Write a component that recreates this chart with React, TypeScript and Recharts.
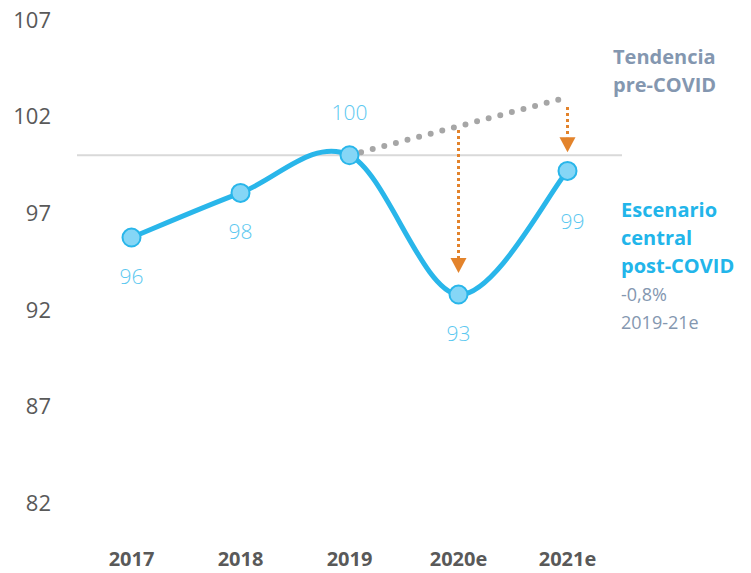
import { ComposedChart, Line, XAxis, YAxis, ReferenceLine, LabelList } from "recharts";

const years = ["2017", "2018", "2019", "2020e", "2021e"];
const central = [95.74, 98.05, 100, 92.79, 99.19];
const preCovid = [null, null, 100, 101.5, 103];
const yTicks = [82, 87, 92, 97, 102, 107];
const arrowYears = ["2020e", "2021e"];
const arrowFrom = [101.3, 102.5];
const arrowTo = [93.9, 100.15];

const C = {
  blue: "#29b6ea",
  dotFill: "#85d6f6",
  label: "#5cc8f0",
  trend: "#a6a6a6",
  orange: "#e3832b",
  axis: "#595959",
  ref: "#d9d9d9",
  note: "#8497b0",
  noteBlue: "#22b5ea",
};

const FONT = "'Open Sans', 'Noto Sans', sans-serif";

const data = years.map((year, i) => ({ year, central: central[i], trend: preCovid[i] }));

// catmull-rom smoothing, close to the office "smoothed line"
const smooth = (context: any) => {
  let pts: number[][] = [];
  const flush = () => {
    const n = pts.length;
    if (!n) return;
    context.moveTo(pts[0][0], pts[0][1]);
    for (let i = 0; i < n - 1; i++) {
      const p0 = pts[Math.max(i - 1, 0)];
      const p1 = pts[i];
      const p2 = pts[i + 1];
      const p3 = pts[Math.min(i + 2, n - 1)];
      context.bezierCurveTo(
        p1[0] + (p2[0] - p0[0]) / 6,
        p1[1] + (p2[1] - p0[1]) / 6,
        p2[0] - (p3[0] - p1[0]) / 6,
        p2[1] - (p3[1] - p1[1]) / 6,
        p2[0],
        p2[1]
      );
    }
  };
  return {
    areaStart() {},
    areaEnd() {},
    lineStart() {
      pts = [];
    },
    lineEnd() {
      flush();
    },
    point(x: number, y: number) {
      pts.push([+x, +y]);
    },
  };
};

const arrowShape = (p: any) => {
  const { x1, y1, x2, y2 } = p;
  const head = 15;
  return (
    <g>
      <line x1={x1} y1={y1} x2={x2} y2={y2 - head} stroke={C.orange} strokeWidth={3} strokeDasharray="3 3" />
      <polygon points={`${x2 - 8},${y2 - head} ${x2 + 8},${y2 - head} ${x2},${y2}`} fill={C.orange} />
    </g>
  );
};

const ValueLabel = (p: any) => {
  const { x, y, value, index } = p;
  const year = years[index];
  const above = year === "2019";
  const dx = year === "2021e" ? 5 : 0;
  const dy = above ? -43 : year === "2021e" ? 51 : 39;
  return (
    <text x={x + dx} y={y + dy} dy="0.35em" textAnchor="middle" fill={C.label} fontSize={21} fontWeight={300} fontFamily={FONT}>
      {Math.round(value)}
    </text>
  );
};

const XTick = (p: any) => {
  const { x, y, payload } = p;
  return (
    <text x={x} y={y} dy={55} textAnchor="middle" fill={C.axis} fontSize={20} fontWeight={700} fontFamily={FONT}>
      {payload.value}
    </text>
  );
};

export default function App() {
  return (
    <div style={{ position: "absolute", left: 0, top: 0, width: 751, height: 573, background: "#fff", fontFamily: FONT }}>
      <ComposedChart width={751} height={573} data={data} margin={{ top: 20, right: 129, bottom: 0, left: 0 }}>
        <XAxis
          dataKey="year"
          height={70}
          axisLine={false}
          tickLine={false}
          tick={<XTick />}
          interval={0}
          padding={{ left: 54.5, right: 54.5 }}
        />
        <YAxis
          domain={[82, 107]}
          ticks={yTicks}
          width={77}
          axisLine={false}
          tickLine={false}
          tickMargin={20}
          tick={{ fontSize: 22, fill: C.axis, fontFamily: FONT }}
        />
        <ReferenceLine y={100} stroke={C.ref} strokeWidth={2} />
        <Line
          dataKey="trend"
          type="linear"
          stroke={C.trend}
          strokeWidth={6}
          strokeDasharray="0 12"
          strokeLinecap="round"
          dot={false}
          activeDot={false}
          connectNulls={false}
          isAnimationActive={false}
        />
        {arrowYears.map((yr, i) => (
          <ReferenceLine
            key={yr}
            segment={[
              { x: yr, y: arrowFrom[i] },
              { x: yr, y: arrowTo[i] },
            ]}
            shape={arrowShape}
          />
        ))}
        <Line
          dataKey="central"
          type={smooth as any}
          stroke={C.blue}
          strokeWidth={5}
          dot={{ r: 9, fill: C.dotFill, stroke: C.blue, strokeWidth: 2 }}
          activeDot={false}
          isAnimationActive={false}
        >
          <LabelList dataKey="central" content={<ValueLabel />} />
        </Line>
      </ComposedChart>

      <div style={{ position: "absolute", left: 613, top: 43, lineHeight: "28px", fontSize: 20, fontWeight: 700, color: C.note }}>
        Tendencia
        <br />
        pre-COVID
      </div>
      <div style={{ position: "absolute", left: 621, top: 196, lineHeight: "28px", whiteSpace: "nowrap" }}>
        <div style={{ fontSize: 20, fontWeight: 700, color: C.noteBlue }}>Escenario</div>
        <div style={{ fontSize: 20, fontWeight: 700, color: C.noteBlue }}>central</div>
        <div style={{ fontSize: 20, fontWeight: 700, color: C.noteBlue }}>post-COVID</div>
        <div style={{ fontSize: 18, color: C.note }}>-0,8%</div>
        <div style={{ fontSize: 18, color: C.note }}>2019-21e</div>
      </div>
    </div>
  );
}
